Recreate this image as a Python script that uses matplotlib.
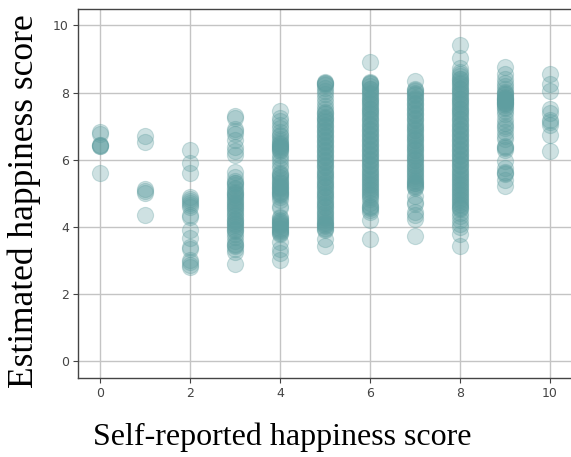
import matplotlib
matplotlib.use("Agg")
import matplotlib.pyplot as plt

# Estimated happiness score for each self-reported score (0-10)
self_scores = [0, 1, 2, 3, 4, 5, 6, 7, 8, 9, 10]

est_0 = [6.82, 6.78, 6.44, 6.42, 6.40, 6.43, 5.60]
est_1 = [6.70, 6.52, 5.12, 5.06, 5.00, 4.36]
est_2 = [6.30, 5.90, 5.60, 4.90, 4.82, 4.76, 4.72, 4.65, 4.58, 4.35, 4.30,
         3.90, 3.68, 3.40, 3.35, 3.02, 2.95, 2.88, 2.82]
est_3 = [7.30, 7.25, 6.92, 6.85, 6.78, 6.60, 6.38, 6.25, 6.15, 5.65, 5.50,
         5.38, 5.32, 5.25, 5.15, 5.05, 5.00, 4.95, 4.88, 4.80, 4.75, 4.70,
         4.62, 4.55, 4.48, 4.40, 4.32, 4.25, 4.18, 4.12, 4.05, 4.00, 3.95,
         3.88, 3.80, 3.70, 3.58, 3.50, 3.42, 3.35, 3.25, 2.90,
         5.30, 5.12, 4.98, 4.85, 4.66, 4.52, 4.36, 4.22, 4.08, 3.92, 3.45]
est_4 = [7.45, 7.25, 7.15, 7.05, 6.95, 6.82, 6.75, 6.62, 6.55, 6.48, 6.42,
         6.38, 6.32, 6.25, 6.15, 6.05, 5.95, 5.85, 5.75, 5.62, 5.55, 5.48,
         5.40, 5.35, 5.28, 5.20, 5.12, 5.05, 4.98, 4.90, 4.80, 4.62, 4.55,
         4.30, 4.22, 4.15, 4.10, 4.05, 3.98, 3.92, 3.85, 3.78, 3.55, 3.35,
         3.22, 3.00,
         6.70, 6.50, 6.44, 6.36, 6.28, 5.58, 5.45, 5.30, 5.22, 5.15, 5.08,
         5.00, 4.95, 4.26, 4.18, 4.12, 4.02, 3.95, 3.88, 3.82]
est_5 = [8.32, 8.28, 8.22, 8.15, 8.05, 7.95, 7.85, 7.72, 7.60, 7.50, 7.42,
         7.35, 7.28, 7.20, 7.12, 7.05, 6.98, 6.90, 6.82, 6.75, 6.68, 6.60,
         6.52, 6.45, 6.38, 6.30, 6.22, 6.15, 6.08, 6.00, 5.92, 5.85, 5.78,
         5.70, 5.62, 5.55, 5.48, 5.40, 5.32, 5.25, 5.18, 5.10, 5.02, 4.95,
         4.88, 4.80, 4.72, 4.65, 4.58, 4.50, 4.42, 4.35, 4.28, 4.20, 4.12,
         4.05, 3.98, 3.92, 3.65, 3.42,
         8.30, 8.25, 7.40, 7.25, 7.15, 7.00, 6.85, 6.70, 6.55, 6.40, 6.25,
         6.10, 5.95, 5.80, 5.65, 5.50, 5.35, 5.20, 5.05, 4.90, 4.75, 4.60,
         4.45, 4.30, 4.15, 4.08, 4.02, 3.95]
est_6 = [8.92, 8.32, 8.28, 8.20, 8.12, 8.05, 7.98, 7.90, 7.82, 7.75, 7.68,
         7.60, 7.52, 7.45, 7.38, 7.30, 7.22, 7.15, 7.08, 7.00, 6.92, 6.85,
         6.78, 6.70, 6.62, 6.55, 6.48, 6.40, 6.32, 6.25, 6.18, 6.10, 6.02,
         5.95, 5.88, 5.80, 5.72, 5.65, 5.58, 5.50, 5.42, 5.35, 5.28, 5.20,
         5.12, 5.05, 4.98, 4.90, 4.82, 4.72, 4.62, 4.55, 4.45, 4.20, 3.65,
         8.30, 8.25, 8.10, 7.95, 7.80, 7.65, 7.50, 7.35, 7.20, 7.05, 6.90,
         6.75, 6.60, 6.45, 6.30, 6.15, 6.00, 5.85, 5.70, 5.55, 5.40, 5.25,
         5.10, 4.95, 4.60, 4.50]
est_7 = [8.35, 8.12, 8.05, 7.98, 7.92, 7.85, 7.78, 7.70, 7.62, 7.55, 7.48,
         7.40, 7.32, 7.25, 7.18, 7.10, 7.02, 6.95, 6.88, 6.80, 6.72, 6.65,
         6.58, 6.50, 6.42, 6.35, 6.28, 6.20, 6.12, 6.05, 5.98, 5.90, 5.82,
         5.75, 5.68, 5.60, 5.52, 5.45, 5.38, 5.30, 5.22, 5.15, 4.92, 4.75,
         4.68, 4.45, 4.35, 4.25, 3.72,
         8.08, 7.95, 7.80, 7.65, 7.50, 7.35, 7.20, 7.05, 6.90, 6.75, 6.60,
         6.45, 6.30, 6.15, 6.00, 5.85, 5.70, 5.55, 5.40, 5.30, 5.25, 5.18]
est_8 = [9.42, 9.02, 8.72, 8.62, 8.50, 8.42, 8.35, 8.28, 8.20, 8.12, 8.05,
         7.98, 7.90, 7.82, 7.75, 7.68, 7.60, 7.52, 7.45, 7.38, 7.30, 7.22,
         7.15, 7.08, 7.00, 6.92, 6.85, 6.78, 6.70, 6.62, 6.55, 6.48, 6.40,
         6.32, 6.25, 6.18, 6.10, 6.02, 5.95, 5.88, 5.80, 5.72, 5.65, 5.58,
         5.50, 5.42, 5.35, 5.28, 5.20, 5.12, 5.05, 4.98, 4.90, 4.82, 4.75,
         4.68, 4.60, 4.52, 4.42, 4.32, 4.22, 4.10, 4.00, 3.80, 3.42,
         8.55, 8.40, 8.25, 8.10, 7.95, 7.80, 7.65, 7.50, 7.35, 7.20, 7.05,
         6.90, 6.75, 6.60, 6.45, 6.30, 6.15, 6.00, 5.85, 5.70, 5.55, 5.40,
         5.25, 5.10, 4.95, 4.80, 4.65, 4.55]
est_9 = [8.75, 8.55, 8.40, 8.30, 8.20, 8.10, 8.02, 7.95, 7.88, 7.82, 7.78,
         7.72, 7.68, 7.62, 7.55, 7.45, 7.35, 7.22, 7.10, 7.02, 6.95, 6.82,
         6.72, 6.62, 6.42, 6.35, 6.30, 5.95, 5.75, 5.65, 5.58, 5.40, 5.22,
         8.00, 7.92, 7.85, 7.80, 7.75, 7.70, 7.65, 7.58, 6.38, 5.62]
est_10 = [8.55, 8.25, 8.05, 7.52, 7.38, 7.18, 7.12, 7.05, 6.75, 6.25]

estimates = [est_0, est_1, est_2, est_3, est_4, est_5, est_6, est_7, est_8,
             est_9, est_10]

x_ticks = [0, 2, 4, 6, 8, 10]
y_ticks = [0, 2, 4, 6, 8, 10]

fig = plt.figure(figsize=(5.71, 4.57), dpi=100)
ax = fig.add_axes([0.1366, 0.1729, 0.8658, 0.8081])

teal = "#5f9ea0"
for score, vals in zip(self_scores, estimates):
    ax.scatter([score] * len(vals), vals, s=135, color=teal, alpha=0.3,
               edgecolors=teal, linewidths=0.8, zorder=3)

ax.set_xlim(-0.5, 10.5)
ax.set_ylim(-0.5, 10.5)
ax.set_xticks(x_ticks)
ax.set_yticks(y_ticks)
ax.grid(True, color="#c4c4c4", linewidth=1.0, zorder=0)
ax.set_axisbelow(True)

for side in ["left", "bottom", "top"]:
    ax.spines[side].set_color("#444444")
    ax.spines[side].set_linewidth(1.0)
ax.spines["right"].set_visible(False)

ax.tick_params(axis="both", labelsize=9, colors="#444444", length=3.5,
               width=0.8, pad=3, labelcolor="#444444")

serif = ["Liberation Serif", "DejaVu Serif"]
fig.text(282 / 571, 1 - 437 / 457, "Self-reported happiness score",
         fontsize=23, family=serif, ha="center", va="center")
fig.text(24 / 571, 1 - 201 / 457, "Estimated happiness score",
         fontsize=25.5, family=serif, ha="center", va="center", rotation=90)

fig.savefig("out.png", dpi=100)
